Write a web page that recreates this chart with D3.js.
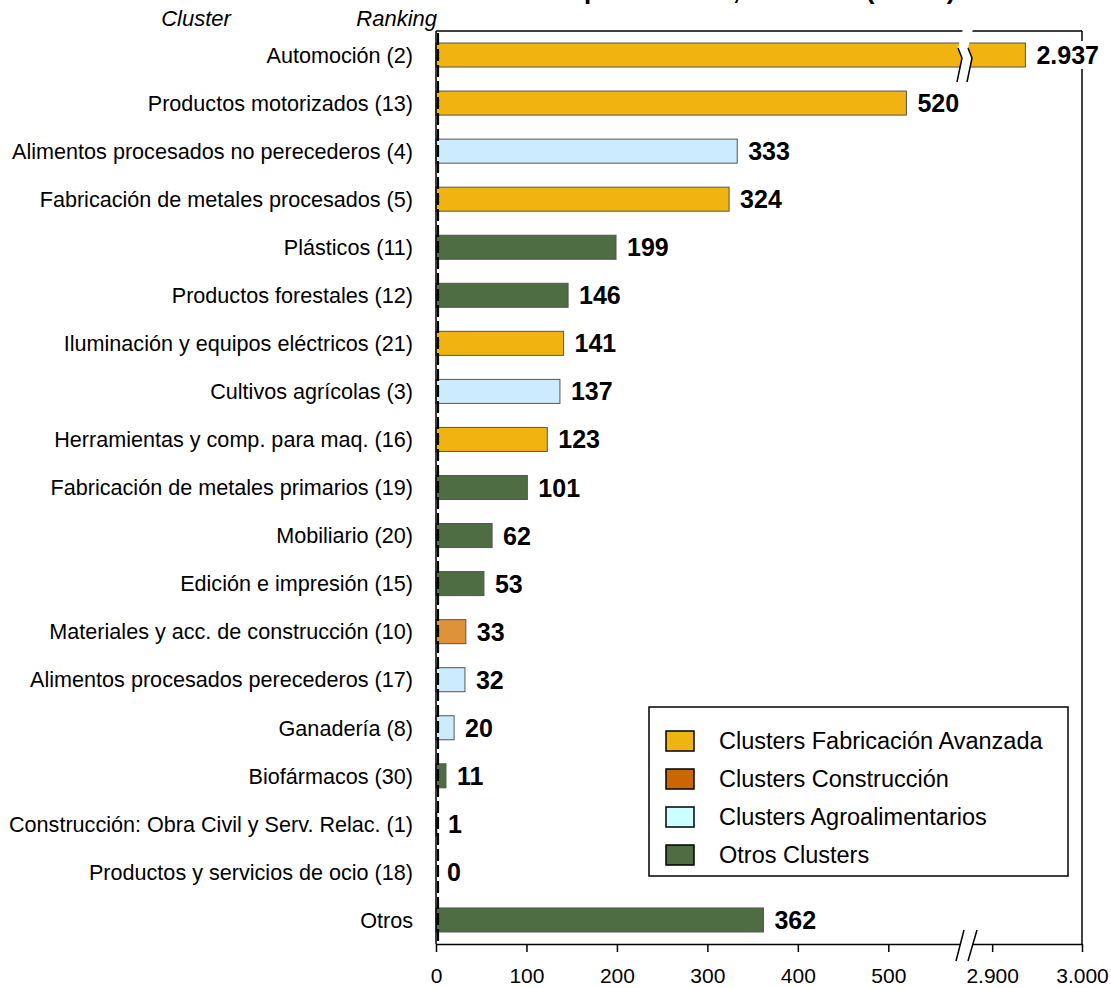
<!DOCTYPE html>
<html><head><meta charset="utf-8">
<script src="https://cdn.jsdelivr.net/npm/d3@7"></script>
<style>body{margin:0;background:#fff}svg{display:block}text{font-family:"Liberation Sans",Arial,sans-serif}</style>
</head><body><svg id="c" width="1111" height="988"></svg>
<script>
const categories = [
  "Automoción (2)","Productos motorizados (13)","Alimentos procesados no perecederos (4)",
  "Fabricación de metales procesados (5)","Plásticos (11)","Productos forestales (12)",
  "Iluminación y equipos eléctricos (21)","Cultivos agrícolas (3)","Herramientas y comp. para maq. (16)",
  "Fabricación de metales primarios (19)","Mobiliario (20)","Edición e impresión (15)",
  "Materiales y acc. de construcción (10)","Alimentos procesados perecederos (17)","Ganadería (8)",
  "Biofármacos (30)","Construcción: Obra Civil y Serv. Relac. (1)","Productos y servicios de ocio (18)","Otros"];
const values = [2937,520,333,324,199,146,141,137,123,101,62,53,33,32,20,11,1,0,362];
const groups = ["F","F","A","F","O","O","F","A","F","O","O","O","C","A","A","O","C","O","O"];
const groupKeys = ["F","C","A","O"];
const legendLabels = ["Clusters Fabricación Avanzada","Clusters Construcción","Clusters Agroalimentarios","Otros Clusters"];
const tickValues = [0,100,200,300,400,500,2900,3000];
const breakDomain = [587, 2872];
const titleStart = "Ventas totales ";
const titleEnd = "por clusters, año 2005 (Mill. €)";

const barColor = {F:"#F0B30F", C:"#DE9239", A:"#CDEBFF", O:"#4E6D42"};
const legendColor = {F:"#F0B410", C:"#CC6600", A:"#CCFFFF", O:"#4E6D42"};

const loc = d3.formatLocale({decimal:",", thousands:".", grouping:[3], currency:["","€"]});
const fmt = loc.format(",d");

const svg = d3.select("#c");
const L = 436, R = 1082, T = 31, B = 944;

const x = d3.scaleLinear()
  .domain([0, breakDomain[0], breakDomain[1], 3000])
  .range([L, 967, 967, R]);
const y = d3.scaleBand().domain(categories).range([T, B]).paddingInner(0.5).paddingOuter(0.25);

// title (mostly cut off at top, as in the reference)
svg.append("text").attr("x",584).attr("y",-1).attr("text-anchor","end")
  .attr("font-size",26).attr("font-weight","bold").text(titleStart);
svg.append("text").attr("x",584).attr("y",-1).attr("text-anchor","start")
  .attr("font-size",26).attr("font-weight","bold").text(titleEnd);

// column headers
svg.append("text").attr("x",196).attr("y",26).attr("text-anchor","middle")
  .attr("font-size",22).attr("font-style","italic").text("Cluster");
svg.append("text").attr("x",437).attr("y",26).attr("text-anchor","end")
  .attr("font-size",22).attr("font-style","italic").text("Ranking");

// frame top & right
svg.append("line").attr("x1",L).attr("x2",R).attr("y1",T).attr("y2",T).attr("stroke","#000").attr("stroke-width",1.5);
svg.append("line").attr("x1",R).attr("x2",R).attr("y1",T).attr("y2",B).attr("stroke","#000").attr("stroke-width",1.5);

// bars
const data = categories.map((c,i)=>({c, v:values[i], g:groups[i]}));
svg.append("g").selectAll("rect").data(data).join("rect")
  .attr("x", x(0)).attr("y", d=>y(d.c))
  .attr("width", d=>Math.max(0, x(d.v)-x(0))).attr("height", y.bandwidth())
  .attr("fill", d=>barColor[d.g]).attr("stroke","#555").attr("stroke-width",1)
  .attr("display", d=>d.v>0.5 ? null : "none");

// break marks on bars exceeding the break
data.filter(d=>d.v>breakDomain[1]).forEach(d=>{
  const cy = y(d.c) + y.bandwidth()/2;
  const top = T-2, bot = cy + 27;
  const pts = [[0,top],[-5,cy-7],[-1,cy+3],[-6,bot]];
  const xl = 963, xr = 973;
  const left = pts.map(p=>[xl+p[0],p[1]]);
  const right = pts.map(p=>[xr+p[0],p[1]]);
  svg.append("path").attr("d", d3.line()(left.concat(right.slice().reverse()))+"Z").attr("fill","#fff");
  svg.append("path").attr("d", d3.line()(left.slice(1))).attr("fill","none").attr("stroke","#000").attr("stroke-width",1.5);
  svg.append("path").attr("d", d3.line()(right.slice(1))).attr("fill","none").attr("stroke","#000").attr("stroke-width",1.5);
});

// value labels
const lab = svg.append("g");
data.forEach(d=>{
  const g = lab.append("g");
  const t = g.append("text").attr("x", x(d.v)+11).attr("y", y(d.c)+y.bandwidth()/2)
    .attr("dy","0.36em").attr("font-size",25).attr("font-weight","bold").text(fmt(d.v));
  const bb = t.node().getBBox();
  g.insert("rect","text").attr("x",bb.x).attr("y",bb.y).attr("width",bb.width).attr("height",bb.height).attr("fill","#fff");
});

// category labels
svg.append("g").selectAll("text").data(data).join("text")
  .attr("x",413).attr("y",d=>y(d.c)+y.bandwidth()/2).attr("dy","0.36em")
  .attr("text-anchor","end").attr("font-size",21.6).text(d=>d.c);

// x axis
const ax = svg.append("g").attr("transform",`translate(0,${B})`)
  .call(d3.axisBottom(x).tickValues(tickValues).tickFormat(fmt).tickSize(8).tickSizeOuter(0));
ax.select(".domain").attr("stroke","#000").attr("stroke-width",1.5);
ax.selectAll(".tick line").attr("stroke","#000").attr("stroke-width",1.5);
ax.selectAll(".tick text").attr("font-family","Liberation Sans, Arial, sans-serif").attr("font-size",21).attr("fill","#000").attr("dy","1.35em");

// axis break //
{
  const a = [[956,B+17],[964,B-14]], b=[[968,B+17],[977,B-14]];
  svg.append("path").attr("d", d3.line()([a[0],a[1],b[1],b[0]])+"Z").attr("fill","#fff");
  svg.append("path").attr("d", d3.line()(a)).attr("stroke","#000").attr("stroke-width",1.5);
  svg.append("path").attr("d", d3.line()(b)).attr("stroke","#000").attr("stroke-width",1.5);
}

// left axis line + dashed overlay
svg.append("line").attr("x1",L).attr("x2",L).attr("y1",T).attr("y2",B).attr("stroke","#000").attr("stroke-width",1.5);
svg.append("line").attr("x1",L+2).attr("x2",L+2).attr("y1",T+2).attr("y2",B).attr("stroke","#000").attr("stroke-width",2.2).attr("stroke-dasharray","12,4");

// legend
const lg = svg.append("g");
lg.append("rect").attr("x",649).attr("y",707).attr("width",419).attr("height",169)
  .attr("fill","#fff").attr("stroke","#000").attr("stroke-width",1.5);
const ly = d3.scalePoint().domain(groupKeys).range([741, 855]);
groupKeys.forEach((k,i)=>{
  lg.append("rect").attr("x",666).attr("y",ly(k)-10).attr("width",28).attr("height",20)
    .attr("fill",legendColor[k]).attr("stroke","#000").attr("stroke-width",1.5);
  lg.append("text").attr("x",719).attr("y",ly(k)).attr("dy","0.36em").attr("font-size",23.5).text(legendLabels[i]);
});
</script></body></html>
